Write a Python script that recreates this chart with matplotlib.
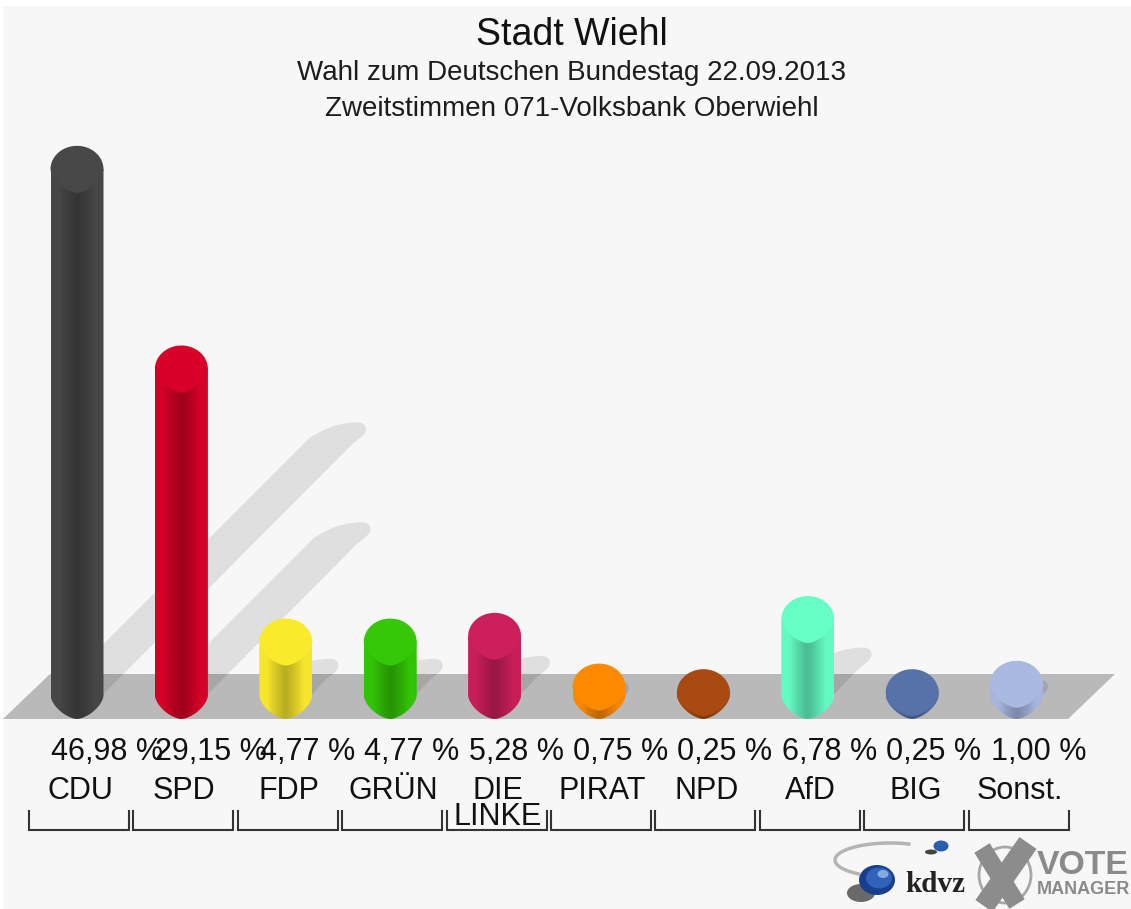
import numpy as np
import matplotlib
matplotlib.use("Agg")
import matplotlib.pyplot as plt
from matplotlib.colors import to_rgb
from matplotlib.patches import Ellipse, Polygon, PathPatch, Rectangle
from matplotlib.path import Path

plt.rcParams['font.family'] = ['Liberation Sans', 'DejaVu Sans']

# data
parties = ['CDU', 'SPD', 'FDP', 'GRÜN', 'DIE\nLINKE', 'PIRAT', 'NPD', 'AfD', 'BIG', 'Sonst.']
votes = [46.98, 29.15, 4.77, 4.77, 5.28, 0.75, 0.25, 6.78, 0.25, 1.00]
value_labels = ['46,98 %', '29,15 %', '4,77 %', '4,77 %', '5,28 %', '0,75 %', '0,25 %', '6,78 %', '0,25 %', '1,00 %']
colors = ['#484848', '#d80028', '#fbea2c', '#34c806', '#cc1f5c', '#ff8a00', '#a84a12', '#66ffc6', '#5672a8', '#a9b9e2']

W, H = 1131, 909
X0, STEP = 77.0, 104.4     # pixel of first bar, pixels per category
Y0, PER_PCT = 695.5, 11.2  # pixel of 0 %, pixels per percent
SHADOW = 5.6               # pixels of shadow per percent


def px(x):
    return (x - X0) / STEP


def py(y):
    return (Y0 - y) / PER_PCT


def smooth(points, rounds=3):
    # corner cutting so the shadow tip comes out round
    pts = np.array(points, dtype=float)
    for _ in range(rounds):
        a = pts[:-1] * 0.75 + pts[1:] * 0.25
        b = pts[:-1] * 0.25 + pts[1:] * 0.75
        pts = np.vstack([pts[0], np.column_stack([a, b]).reshape(-1, 2), pts[-1]])
    return pts


fig = plt.figure(figsize=(W / 100, H / 100), dpi=100, facecolor='white')
ax = fig.add_axes([0, 0, 1, 1])
ax.axis('off')
ax.add_patch(Rectangle((px(3), py(H)), px(W) - px(3), py(6) - py(H), fc='#f7f7f7', ec='none', zorder=0))

# floor
floor = Polygon([(px(3), py(719)), (px(50), py(674)), (px(1115), py(674)), (px(1068), py(719))],
                closed=True, fc='#b9b9b9', ec='none', zorder=2)
ax.add_patch(floor)

# shadows, light above the floor, darker on it
tip = smooth([(-30, 5), (-10, -6), (10, -10), (24, -10), (27, 0), (13, 11)])
for i, v in enumerate(votes):
    L = v * SHADOW
    pts = [(i - 25 / STEP, 0)]
    pts += [(i + (L + dx) / STEP, (L - dy) / PER_PCT) for dx, dy in tip]
    pts += [(i + 25 / STEP, 0)]
    ax.add_patch(Polygon(pts, closed=True, fc='#dfdfdf', ec='none', zorder=1))
    dark = Polygon(pts, closed=True, fc='#a6a6a6', ec='none', zorder=3)
    ax.add_patch(dark)
    dark.set_clip_path(floor)

# bars
rx = 26.5 / STEP
ry = 23.5 / PER_PCT
P_LOW = 1.6  # lower edge of cap and body comes to a soft point
t = np.linspace(0, np.pi, 60)
cs, sn = np.cos(t), np.sin(t)
low_x = rx * np.sign(cs) * np.abs(cs) ** (2 / P_LOW)
low_y = -ry * np.abs(sn) ** (2 / P_LOW)
for i, (v, c) in enumerate(zip(votes, colors)):
    rgb = np.array(to_rgb(c))
    verts = [(i - rx, v)] + [(i + a, b) for a, b in zip(low_x[::-1], low_y[::-1])] + [(i + rx, v), (i - rx, v)]
    body = PathPatch(Path(verts), fc='none', ec='none', zorder=4)
    ax.add_patch(body)
    u = np.abs(np.linspace(-1, 1, 100))
    shade = (0.74 + 0.24 * np.minimum(u / 0.7, 1) ** 1.2)[None, :, None] * rgb[None, None, :]
    im = ax.imshow(shade, extent=[i - rx, i + rx, -ry, v], aspect='auto', interpolation='bilinear', zorder=4)
    im.set_clip_path(body)
    cap = [(i + rx * np.cos(a), v + ry * np.sin(a)) for a in t]
    cap += [(i + a, v + b) for a, b in zip(low_x[::-1], low_y[::-1])]
    ax.add_patch(Polygon(cap, closed=True, fc=c, ec='none', zorder=5))

# title
ax.text(px(572), py(35), 'Stadt Wiehl', fontsize=27, ha='center', va='center', color='#111111', zorder=6)
ax.text(px(571.5), py(73), 'Wahl zum Deutschen Bundestag 22.09.2013', fontsize=20, ha='center', va='center', color='#1c1c1c')
ax.text(px(571.5), py(109), 'Zweitstimmen 071-Volksbank Oberwiehl', fontsize=20, ha='center', va='center', color='#1c1c1c')

# value labels, party labels and brackets
for i, (name, lab) in enumerate(zip(parties, value_labels)):
    ax.text(i - 26 / STEP, py(752), lab, fontsize=22, ha='left', va='center', color='#111111')
    parts = name.split('\n')
    ax.text(i + 3 / STEP, py(791), parts[0], fontsize=22, ha='center', va='center', color='#111111')
    if len(parts) > 1:
        ax.text(i + 3 / STEP, py(817), parts[1], fontsize=22, ha='center', va='center', color='#111111')
    ax.plot([i - 48 / STEP, i - 48 / STEP, i + 52 / STEP, i + 52 / STEP],
            [py(811), py(830), py(830), py(811)], color='#333333', lw=1.5, solid_joinstyle='miter')

# kdvz logo
arc_t = np.radians(np.linspace(70, 235, 40))
ax.plot(px(890) + 55 * np.cos(arc_t) / STEP, py(860) + 17 * np.sin(arc_t) / PER_PCT, color='#b4b4b4', lw=2.5)
ax.add_patch(Ellipse((px(861), py(893)), 28 / STEP, 18 / PER_PCT, fc='#3a3a3a', ec='none', alpha=0.75))
ax.add_patch(Ellipse((px(877), py(880)), 36 / STEP, 30 / PER_PCT, fc='#173f8c', ec='none'))
ax.add_patch(Ellipse((px(879), py(878)), 26 / STEP, 21 / PER_PCT, fc='#2f62b8', ec='none'))
ax.add_patch(Ellipse((px(883), py(874)), 11 / STEP, 8 / PER_PCT, fc='#86a8e2', ec='none'))
ax.add_patch(Ellipse((px(931), py(852)), 12 / STEP, 5 / PER_PCT, fc='#444444', ec='none'))
ax.add_patch(Ellipse((px(941), py(846)), 15 / STEP, 11 / PER_PCT, fc='#2a5cb0', ec='none'))
ax.text(px(935), py(884), 'kdvz', fontsize=21, family='Liberation Serif', weight='bold', ha='center', va='center', color='#222222')

# vote manager logo
ax.add_patch(Ellipse((px(1005), py(875)), 52 / STEP, 56 / PER_PCT, fc='none', ec='#a8a8a8', lw=2))
ax.plot([px(982), px(1017)], [py(848), py(904)], color='#8c8c8c', lw=13, solid_capstyle='butt')
ax.plot([px(1028), px(984)], [py(843), py(906)], color='#8c8c8c', lw=15, solid_capstyle='butt')
ax.text(px(1037), py(865), 'VOTE', fontsize=24.3, weight='bold', ha='left', va='center', color='#8a8a8a')
ax.text(px(1037), py(889), 'MANAGER', fontsize=13, weight='bold', ha='left', va='center', color='#8a8a8a')

ax.set_xlim(px(0), px(W))
ax.set_ylim(py(H), py(0))
fig.savefig('out.png', dpi=100, facecolor='white')
